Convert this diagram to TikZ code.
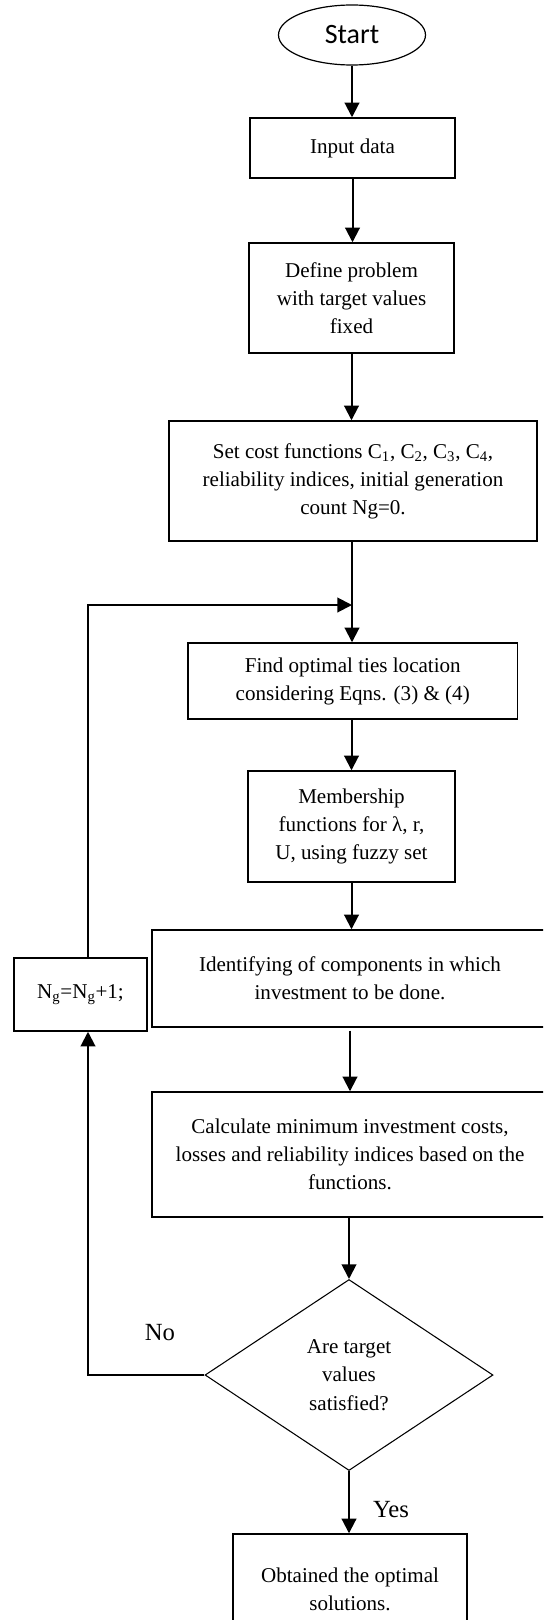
\documentclass[tikz,border=0pt]{standalone}
\usepackage{fontspec}
\setmainfont{Liberation Serif}
\newfontfamily\startfont{Carlito}
\usetikzlibrary{shapes.geometric,arrows.meta}
\newcommand\pxu{0.75pt}
\tikzset{
  boxtext/.style={font=\fontsize{15.8}{21}\selectfont, align=center},
  procbox/.style={draw, line width=1.1pt, inner sep=0pt, boxtext},
  flowarrow/.style={line width=1.5pt, -{Triangle[length=11pt,width=11pt]}},
  answer/.style={font=\fontsize{18.5}{22}\selectfont, inner sep=0pt}
}
\begin{document}
\begin{tikzpicture}[x=0.75pt,y=-0.75pt]
\useasboundingbox (0,0) rectangle (543,1620);
\begin{scope}
\clip (0,0) rectangle (543,1620);
\fill[white] (0,0) rectangle (543,1620);

\node[draw, ellipse, line width=0.9pt, minimum width=147*\pxu, minimum height=60*\pxu, inner sep=0pt,
      font=\startfont\fontsize{21}{24}\selectfont] (start) at (352,35) {Start};

\node[procbox, minimum width=205*\pxu, minimum height=60*\pxu] (input) at (352.5,148) {Input data};

\node[procbox, minimum width=205*\pxu, minimum height=110*\pxu] (define) at (351.5,298)
  {Define problem\\with target values\\fixed};

\node[procbox, minimum width=368*\pxu, minimum height=120*\pxu] (setcost) at (353,481)
  {\raisebox{-6pt}{\parbox{270pt}{\centering Set cost functions C\textsubscript{1}, C\textsubscript{2}, C\textsubscript{3}, C\textsubscript{4},\\
   reliability indices, initial generation\\count Ng=0.}}};

\node[procbox, minimum width=329.5*\pxu, minimum height=76*\pxu] (find) at (352.75,681)
  {Find optimal ties location\\considering Eqns. (3) \& (4)};

\node[procbox, minimum width=207*\pxu, minimum height=111*\pxu] (member) at (351.5,826.5)
  {Membership\\functions for λ, r,\\U, using fuzzy set};

\node[procbox, minimum width=396*\pxu, minimum height=97*\pxu] (ident) at (350,978.5)
  {\raisebox{-5pt}{\parbox{292pt}{\centering Identifying of components in which\\investment to be done.}}};

\node[procbox, minimum width=133*\pxu, minimum height=73*\pxu] (ng) at (80.5,994.5)
  {N\textsubscript{g}=N\textsubscript{g}+1;};

\node[procbox, minimum width=396*\pxu, minimum height=125*\pxu] (calc) at (350,1154.5)
  {\raisebox{-4pt}{\parbox{292pt}{\centering Calculate minimum investment costs,\\losses and reliability indices based on the\\functions.}}};

\node[draw, diamond, line width=0.8pt, minimum width=288*\pxu, minimum height=191*\pxu, inner sep=0pt,
      font=\fontsize{15.8}{21.4}\selectfont, align=center] (dec) at (349,1375)
  {Are target\\values\\satisfied?};

\node[procbox, minimum width=234*\pxu, minimum height=110*\pxu] (obt) at (350,1589)
  {Obtained the optimal\\solutions.};

\node[answer] (no) at (160,1333) {No};
\node[answer] (yes) at (391,1510) {Yes};

\coordinate (loopx) at (88,0);
\coordinate (join) at (352,605);

% main flow
\draw[flowarrow] (start.south) -- (start.south |- input.north);
\draw[flowarrow] (input.south) -- (input.south |- define.north);
\draw[flowarrow] (define.south) -- (define.south |- setcost.north);
\draw[flowarrow] (setcost.south -| join) -- (join |- find.north);
\draw[flowarrow] (find.south -| member.north) -- (member.north);
\draw[flowarrow] (member.south) -- (member.south |- ident.north);
\draw[flowarrow] ([yshift=-2.25pt]ident.south) -- (calc.north);
\draw[flowarrow] (calc.south -| dec.north) -- (dec.north);
\draw[flowarrow] (dec.south) -- (dec.south |- obt.north);

% feedback loop
\draw[flowarrow] (dec.west) -| (ng.south -| loopx);
\draw[flowarrow] (ng.north -| loopx) |- (join);
\end{scope}
\end{tikzpicture}
\end{document}
